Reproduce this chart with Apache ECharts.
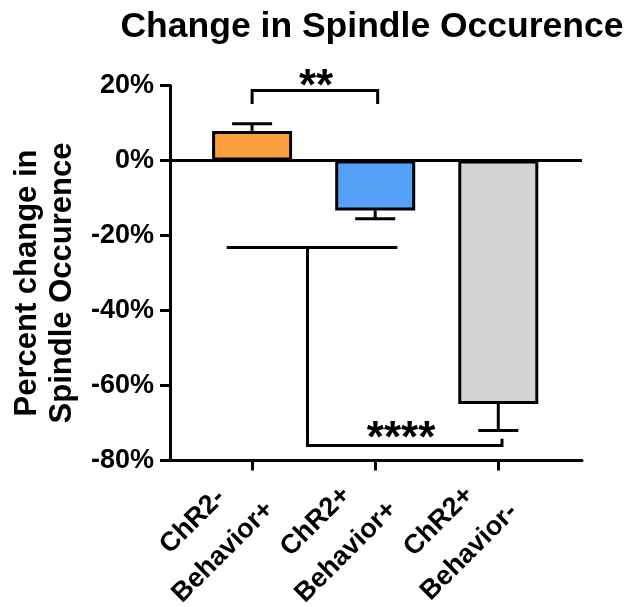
<!DOCTYPE html>
<html>
<head>
<meta charset="utf-8">
<script src="https://cdn.jsdelivr.net/npm/echarts@6/dist/echarts.min.js"></script>
<style>
  html, body { margin: 0; padding: 0; background: #fff; }
  #chart { width: 636px; height: 607px; }
</style>
</head>
<body>
<div id="chart"></div>
<script>
// Groups and their mean percent change with SEM
const categories = ['ChR2-\nBehavior+', 'ChR2+\nBehavior+', 'ChR2+\nBehavior-'];
const meanChange = [7.9, -13.3, -64.9];
const semChange = [1.9, 2.2, 7.1];
const barColors = ['#FBA03C', '#55A1F8', '#D4D4D4'];
const yTicks = [-80, -60, -40, -20, 0, 20];

// Significance brackets: polylines in (group index, percent) and star labels
const brackets = [
  { stars: '**', labelAt: [0.52, 19.5],
    paths: [[[0, 15.1], [0, 18.7], [1.02, 18.7], [1.02, 15.1]]] },
  { stars: '****', labelAt: [1.21, -74.6],
    paths: [[[-0.206, -23.2], [1.18, -23.2]],
            [[0.45, -23.2], [0.45, -76], [2.03, -76], [2.03, -74.2]]] }
];

const FONT = '"Liberation Sans", Arial, Helvetica, sans-serif';
const tickPositions = categories.map((c, i) => i);

const chart = echarts.init(document.getElementById('chart'), null, { renderer: 'canvas' });

chart.setOption({
  backgroundColor: '#fff',
  animation: false,
  title: {
    text: 'Change in Spindle Occurence',
    left: 367,
    top: 4,
    textAlign: 'center',
    textStyle: { fontFamily: FONT, fontWeight: 'bold', fontSize: 35.5, color: '#000' }
  },
  grid: { left: 170, right: 54, top: 85.5, bottom: 146.5, outerBoundsMode: 'none' },
  xAxis: {
    type: 'value',
    min: -0.667,
    max: 2.68,
    splitLine: { show: false },
    axisLine: { onZero: false, lineStyle: { color: '#000', width: 3 } },
    axisTick: { show: true, customValues: tickPositions, length: 10, lineStyle: { color: '#000', width: 3 } },
    axisLabel: {
      customValues: tickPositions,
      hideOverlap: false,
      showMinLabel: true,
      showMaxLabel: true,
      // each line centred inside a fixed-width block, block right-aligned at the tick
      formatter: v => categories[Math.round(v)].split('\n').map(s => '{c|' + s + '}').join('\n'),
      rotate: 45,
      align: 'right',
      verticalAlign: 'middle',
      margin: 32,
      rich: {
        c: {
          width: 125,
          align: 'center',
          lineHeight: 43,
          fontFamily: FONT,
          fontWeight: 'bold',
          fontSize: 27,
          color: '#000'
        }
      }
    }
  },
  yAxis: {
    type: 'value',
    min: yTicks[0],
    max: yTicks[yTicks.length - 1],
    interval: 20,
    splitLine: { show: false },
    axisLine: { show: true, onZero: false, lineStyle: { color: '#000', width: 3 } },
    axisTick: { show: true, length: 10, lineStyle: { color: '#000', width: 3 } },
    axisLabel: {
      formatter: '{value}%',
      margin: 16,
      fontFamily: FONT,
      fontWeight: 'bold',
      fontSize: 27,
      color: '#000'
    },
    name: 'Percent change in\nSpindle Occurence',
    nameLocation: 'middle',
    nameRotate: 90,
    nameGap: 87,
    nameTextStyle: {
      fontFamily: FONT,
      fontWeight: 'bold',
      fontSize: 31,
      lineHeight: 35,
      color: '#000',
      padding: [0, 20, 0, 0]
    }
  },
  series: [
    {
      type: 'bar',
      barWidth: 80,
      data: meanChange.map((v, i) => ({ value: [i, v], itemStyle: { color: barColors[i] } })),
      itemStyle: { borderColor: '#000', borderWidth: 3 },
      markLine: {
        silent: true,
        symbol: 'none',
        label: { show: false },
        lineStyle: { color: '#000', width: 3, type: 'solid' },
        data: [{ yAxis: 0 }]
      },
      z: 2
    },
    {
      // SEM whiskers extending away from zero
      type: 'custom',
      data: meanChange.map((m, i) => [i, m, semChange[i]]),
      renderItem: (params, api) => {
        const x = api.value(0), m = api.value(1), e = api.value(2);
        const end = m >= 0 ? m + e : m - e;
        const p0 = api.coord([x, m]);
        const p1 = api.coord([x, end]);
        const half = 20;
        const style = { stroke: '#000', lineWidth: 3 };
        return {
          type: 'group',
          children: [
            { type: 'line', shape: { x1: p0[0], y1: p0[1], x2: p1[0], y2: p1[1] }, style },
            { type: 'line', shape: { x1: p1[0] - half, y1: p1[1], x2: p1[0] + half, y2: p1[1] }, style }
          ]
        };
      },
      z: 3
    },
    {
      // Significance brackets and stars
      type: 'custom',
      data: brackets.map(b => b.labelAt),
      renderItem: (params, api) => {
        const b = brackets[params.dataIndex];
        const children = b.paths.map(path => ({
          type: 'polyline',
          shape: { points: path.map(p => api.coord(p)) },
          style: { stroke: '#000', lineWidth: 3, fill: null }
        }));
        const t = api.coord(b.labelAt);
        children.push({
          type: 'text',
          x: t[0],
          y: t[1],
          style: {
            text: b.stars,
            fill: '#000',
            fontFamily: FONT,
            fontWeight: 'bold',
            fontSize: 44,
            align: 'center',
            verticalAlign: 'middle'
          }
        });
        return { type: 'group', children };
      },
      z: 4
    }
  ]
});
</script>
</body>
</html>
